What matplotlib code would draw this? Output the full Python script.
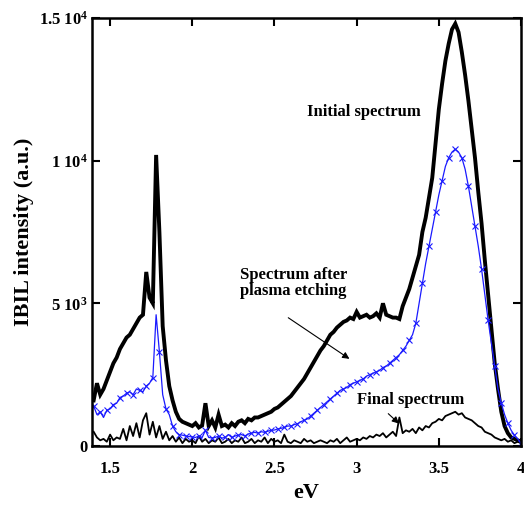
import numpy as np
import matplotlib
matplotlib.use("Agg")
import matplotlib.pyplot as plt

# Energy axis (eV), sampled every 0.02 eV from 1.40 to 4.00
energy = np.round(np.arange(1.40, 4.0001, 0.02), 2)

initial_spectrum = [
    1600, 2200, 1800, 2000, 2300, 2600, 2900, 3100, 3400, 3600,
    3800, 3900, 4100, 4300, 4500, 4600, 6100, 5200, 5000, 10200,
    7500, 4200, 3000, 2100, 1600, 1200, 950, 850, 800, 750,
    700, 800, 650, 720, 1500, 700, 900, 650, 1100, 700,
    750, 650, 800, 700, 850, 900, 800, 950, 900, 1000,
    1000, 1050, 1100, 1150, 1200, 1300, 1350, 1450, 1550, 1650,
    1750, 1900, 2050, 2200, 2350, 2550, 2750, 2950, 3150, 3350,
    3500, 3700, 3900, 4000, 4150, 4250, 4350, 4400, 4500, 4450,
    4700, 4500, 4550, 4600, 4500, 4550, 4650, 4500, 5000, 4600,
    4550, 4500, 4500, 4450, 4900, 5200, 5500, 5900, 6300, 6700,
    7500, 8000, 8700, 9400, 10600, 11800, 12700, 13500, 14100, 14600,
    14800, 14500, 13800, 13000, 12100, 11100, 10100, 8900, 7800, 6500,
    5300, 4100, 2900, 2000, 1200, 700, 450, 300, 250, 200,
    150,
]

after_etching = [
    1400, 1100, 1200, 1000, 1250, 1300, 1450, 1500, 1700, 1750,
    1850, 1900, 1800, 2000, 1950, 1900, 2100, 2200, 2400, 4600,
    3300, 1800, 1300, 1100, 700, 500, 400, 380, 350, 330,
    320, 300, 350, 300, 550, 300, 280, 300, 350, 280,
    300, 400, 300, 350, 380, 400, 350, 420, 450, 480,
    450, 500, 480, 520, 550, 560, 600, 620, 650, 700,
    700, 750, 780, 850, 900, 950, 1050, 1150, 1250, 1350,
    1450, 1550, 1650, 1750, 1850, 1950, 2000, 2050, 2150, 2200,
    2250, 2300, 2350, 2450, 2500, 2550, 2600, 2650, 2750, 2800,
    2900, 3000, 3100, 3200, 3350, 3500, 3700, 3900, 4300, 5000,
    5700, 6400, 7000, 7600, 8200, 8800, 9300, 9800, 10100, 10300,
    10400, 10300, 10100, 9700, 9100, 8400, 7700, 7000, 6200, 5300,
    4400, 3600, 2800, 2000, 1500, 1100, 800, 550, 380, 250,
    100,
]

final_spectrum = [
    500, 300, 200, 250, 150, 400, 200, 300, 250, 600,
    200, 700, 350, 800, 300, 900, 1150, 400, 850, 300,
    700, 250, 500, 200, 350, 150, 300, 100, 250, 150,
    200, 100, 350, 150, 250, 100, 200, 150, 300, 100,
    150, 250, 100, 200, 150, 300, 100, 150, 250, 100,
    200, 150, 300, 100, 250, 150, 200, 100, 400, 150,
    100, 200, 150, 100, 250, 150, 200, 100, 150, 200,
    150, 100, 200, 150, 250, 100, 200, 300, 150, 200,
    250, 200, 300, 250, 350, 300, 400, 350, 450, 300,
    400, 500, 350, 1000, 450, 550, 500, 600, 450, 650,
    550, 700, 650, 800, 850, 950, 900, 1050, 1100, 1150,
    1200, 1100, 1150, 1000, 950, 900, 800, 700, 650, 500,
    450, 400, 300, 250, 200, 250, 150, 200, 100, 150,
    100,
]

x_ticks = [1.5, 2, 2.5, 3, 3.5, 4]
x_tick_labels = ["1.5", "2", "2.5", "3", "3.5", "4"]
y_ticks = [0, 5000, 10000, 15000]
y_tick_labels = ["0", r"5 $\mathbf{10^3}$", r"1 $\mathbf{10^4}$", r"1.5 $\mathbf{10^4}$"]

plt.rcParams["font.family"] = ["Liberation Serif", "DejaVu Serif"]
plt.rcParams["font.weight"] = "bold"
plt.rcParams["mathtext.fontset"] = "custom"
plt.rcParams["mathtext.rm"] = "Liberation Serif:bold"
plt.rcParams["mathtext.bf"] = "Liberation Serif:bold"

fig = plt.figure(figsize=(5.24, 5.05), dpi=100)
ax = fig.add_axes([0.1756, 0.1168, 0.8187, 0.8476])

ax.plot(energy, initial_spectrum, color="black", lw=2.8, solid_joinstyle="miter")
ax.plot(energy, final_spectrum, color="black", lw=1.3)
ax.plot(energy, after_etching, color="#1a1aff", lw=0.9, marker="x",
        markersize=5, markeredgewidth=0.8, markevery=2)

ax.set_xlim(1.39, 4.0)
ax.set_ylim(0, 15000)
ax.set_xticks(x_ticks)
ax.set_xticklabels(x_tick_labels, fontsize=12, fontweight="bold")
ax.set_yticks(y_ticks)
ax.set_yticklabels(y_tick_labels, fontsize=12, fontweight="bold")
ax.tick_params(direction="in", length=6, width=1.5, top=True, right=True,
               labeltop=False, labelright=False)
ax.tick_params(axis="x", pad=11)
ax.tick_params(axis="y", pad=3)
for s in ax.spines.values():
    s.set_linewidth(1.8)

ax.set_xlabel("eV", fontsize=16, fontweight="bold", labelpad=4)
ax.set_ylabel("IBIL intensity (a.u.)", fontsize=16, fontweight="bold", labelpad=3)

ax.text(2.70, 11700, "Initial spectrum", fontsize=12, fontweight="bold",
        va="center", ha="left")
ax.text(2.29, 5700, "Spectrum after\nplasma etching", fontsize=12,
        fontweight="bold", va="center", ha="left", linespacing=1.0)
ax.annotate("", xy=(2.97, 3000), xytext=(2.57, 4550),
            arrowprops=dict(arrowstyle="-|>", color="black", lw=0.8,
                            mutation_scale=10))
ax.text(3.00, 1620, "Final spectrum", fontsize=12, fontweight="bold",
        va="center", ha="left")
ax.annotate("", xy=(3.27, 720), xytext=(3.18, 1200),
            arrowprops=dict(arrowstyle="-|>", color="black", lw=0.8,
                            mutation_scale=10))

fig.savefig("out.png", dpi=100)
